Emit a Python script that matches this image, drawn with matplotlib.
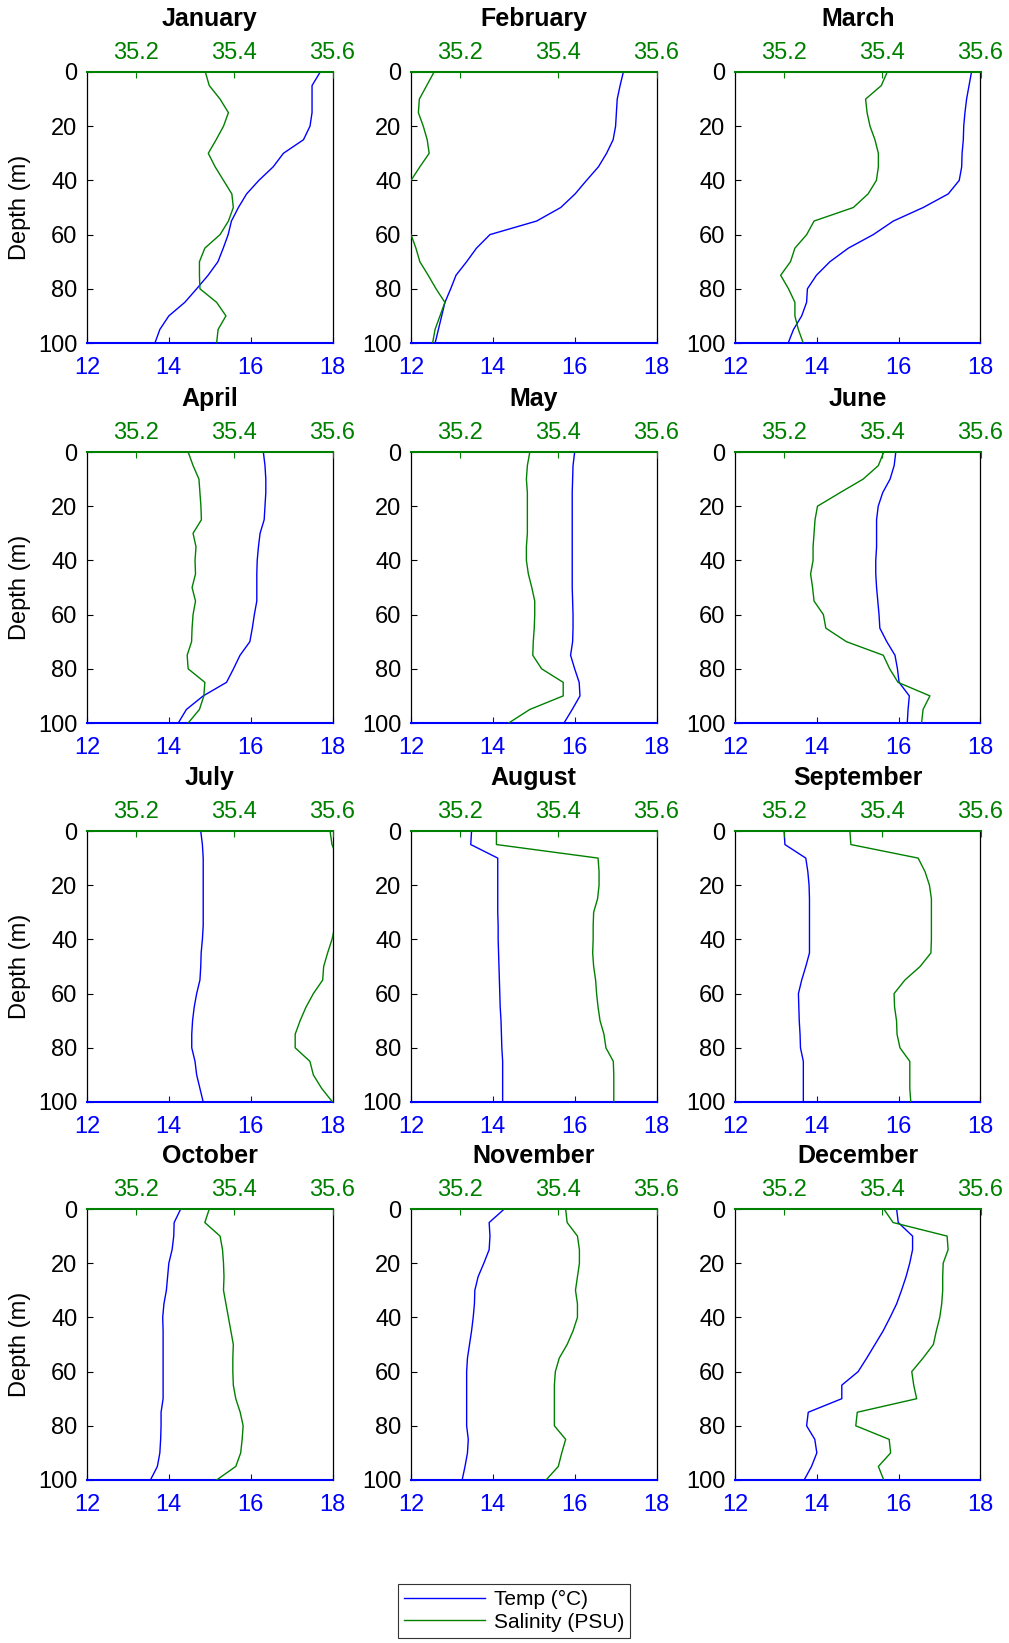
import matplotlib
matplotlib.use("Agg")
import matplotlib.pyplot as plt
from matplotlib.lines import Line2D

plt.rcParams['font.family'] = ['Liberation Sans', 'DejaVu Sans']

months = ["January", "February", "March", "April", "May", "June",
          "July", "August", "September", "October", "November", "December"]
depth = [0, 5, 10, 15, 20, 25, 30, 35, 40, 45, 50, 55, 60, 65, 70, 75, 80, 85, 90, 95, 100]

temp_jan = [17.70, 17.5, 17.5, 17.5, 17.45, 17.29, 16.8, 16.55, 16.2, 15.9, 15.7, 15.53, 15.45, 15.33, 15.2, 14.96, 14.68, 14.39, 14.0, 13.78, 13.66]
sal_jan = [35.341, 35.349, 35.371, 35.388, 35.378, 35.363, 35.347, 35.361, 35.378, 35.395, 35.398, 35.388, 35.371, 35.34, 35.329, 35.329, 35.33, 35.364, 35.383, 35.367, 35.364]
temp_feb = [17.19, 17.11, 17.04, 17.02, 17.0, 16.94, 16.78, 16.58, 16.29, 16.01, 15.66, 15.07, 13.93, 13.6, 13.36, 13.1, 12.97, 12.83, 12.75, 12.67, 12.59]
sal_feb = [35.147, 35.132, 35.117, 35.115, 35.125, 35.133, 35.137, 35.118, 35.1, 35.085, 35.08, 35.085, 35.1, 35.11, 35.118, 35.135, 35.151, 35.169, 35.159, 35.149, 35.144]
temp_mar = [17.78, 17.72, 17.66, 17.62, 17.59, 17.58, 17.55, 17.54, 17.48, 17.21, 16.6, 15.87, 15.38, 14.77, 14.32, 13.99, 13.77, 13.75, 13.63, 13.43, 13.3]
sal_mar = [35.41, 35.398, 35.366, 35.369, 35.375, 35.385, 35.392, 35.392, 35.388, 35.371, 35.341, 35.261, 35.246, 35.222, 35.213, 35.193, 35.209, 35.222, 35.222, 35.229, 35.239]
temp_apr = [16.31, 16.35, 16.37, 16.37, 16.35, 16.33, 16.23, 16.19, 16.16, 16.15, 16.15, 16.15, 16.09, 16.04, 15.98, 15.74, 15.58, 15.41, 14.84, 14.43, 14.23]
sal_apr = [35.306, 35.316, 35.328, 35.33, 35.332, 35.333, 35.316, 35.322, 35.32, 35.321, 35.314, 35.321, 35.316, 35.314, 35.313, 35.304, 35.306, 35.34, 35.338, 35.329, 35.306]
temp_may = [16.0, 15.96, 15.95, 15.94, 15.94, 15.94, 15.94, 15.94, 15.94, 15.94, 15.94, 15.95, 15.96, 15.96, 15.95, 15.9, 16.0, 16.11, 16.13, 15.94, 15.74]
sal_may = [35.342, 35.337, 35.335, 35.337, 35.337, 35.337, 35.337, 35.335, 35.335, 35.339, 35.346, 35.352, 35.352, 35.351, 35.349, 35.348, 35.366, 35.41, 35.41, 35.342, 35.299]
temp_jun = [15.93, 15.89, 15.79, 15.61, 15.50, 15.46, 15.46, 15.46, 15.44, 15.44, 15.46, 15.49, 15.52, 15.54, 15.71, 15.91, 15.97, 16.01, 16.26, 16.23, 16.21]
sal_jun = [35.403, 35.392, 35.361, 35.314, 35.268, 35.263, 35.261, 35.259, 35.259, 35.254, 35.258, 35.261, 35.28, 35.285, 35.327, 35.402, 35.415, 35.432, 35.497, 35.483, 35.48]
temp_jul = [14.78, 14.82, 14.84, 14.84, 14.84, 14.84, 14.84, 14.84, 14.82, 14.79, 14.78, 14.76, 14.68, 14.62, 14.58, 14.56, 14.56, 14.64, 14.68, 14.76, 14.84]
sal_jul = [35.595, 35.599, 35.61, 35.615, 35.615, 35.615, 35.61, 35.605, 35.599, 35.59, 35.582, 35.58, 35.561, 35.546, 35.534, 35.524, 35.524, 35.554, 35.561, 35.578, 35.6]
temp_aug = [13.48, 13.46, 14.12, 14.12, 14.12, 14.12, 14.12, 14.13, 14.13, 14.14, 14.15, 14.16, 14.17, 14.18, 14.2, 14.21, 14.22, 14.24, 14.24, 14.24, 14.24]
sal_aug = [35.274, 35.274, 35.481, 35.483, 35.483, 35.48, 35.472, 35.471, 35.471, 35.47, 35.472, 35.476, 35.478, 35.481, 35.485, 35.493, 35.497, 35.512, 35.513, 35.513, 35.513]
temp_sep = [13.2, 13.22, 13.73, 13.78, 13.81, 13.82, 13.82, 13.82, 13.82, 13.82, 13.73, 13.63, 13.55, 13.56, 13.57, 13.59, 13.6, 13.67, 13.67, 13.67, 13.67]
sal_sep = [35.334, 35.336, 35.473, 35.487, 35.496, 35.5, 35.5, 35.5, 35.5, 35.499, 35.477, 35.446, 35.424, 35.425, 35.429, 35.43, 35.436, 35.456, 35.456, 35.456, 35.458]
temp_oct = [14.29, 14.13, 14.12, 14.08, 14.0, 13.97, 13.94, 13.88, 13.85, 13.86, 13.86, 13.86, 13.86, 13.86, 13.86, 13.81, 13.81, 13.8, 13.78, 13.72, 13.55]
sal_oct = [35.349, 35.34, 35.371, 35.376, 35.378, 35.379, 35.378, 35.383, 35.388, 35.393, 35.398, 35.397, 35.397, 35.398, 35.403, 35.412, 35.418, 35.416, 35.413, 35.403, 35.364]
temp_nov = [14.28, 13.91, 13.93, 13.91, 13.78, 13.64, 13.56, 13.55, 13.52, 13.48, 13.43, 13.38, 13.36, 13.36, 13.36, 13.36, 13.36, 13.4, 13.38, 13.32, 13.25]
sal_nov = [35.415, 35.418, 35.439, 35.443, 35.443, 35.439, 35.435, 35.439, 35.439, 35.43, 35.418, 35.402, 35.394, 35.392, 35.392, 35.392, 35.392, 35.415, 35.407, 35.4, 35.375]
temp_dec = [15.95, 15.99, 16.34, 16.34, 16.27, 16.18, 16.07, 15.95, 15.79, 15.62, 15.42, 15.22, 15.01, 14.61, 14.61, 13.79, 13.75, 13.95, 14.0, 13.87, 13.69]
sal_dec = [35.403, 35.422, 35.532, 35.534, 35.524, 35.523, 35.523, 35.521, 35.517, 35.51, 35.504, 35.483, 35.46, 35.464, 35.47, 35.349, 35.346, 35.414, 35.417, 35.392, 35.403]

temps = [temp_jan, temp_feb, temp_mar, temp_apr, temp_may, temp_jun,
         temp_jul, temp_aug, temp_sep, temp_oct, temp_nov, temp_dec]
sals = [sal_jan, sal_feb, sal_mar, sal_apr, sal_may, sal_jun,
        sal_jul, sal_aug, sal_sep, sal_oct, sal_nov, sal_dec]

temp_ticks = [12, 14, 16, 18]
sal_ticks = [35.2, 35.4, 35.6]
depth_ticks = [0, 20, 40, 60, 80, 100]

BLUE = '#0000FF'
GREEN = '#008000'

W, H = 1009, 1643
fig = plt.figure(figsize=(W / 100, H / 100), dpi=100)

col_left = [87, 411, 735]
row_top = [72, 452, 831, 1209]
aw, ah = 245.5, 271
TICK_FS = 17

for i, m in enumerate(months):
    r, c = divmod(i, 3)
    rect = [col_left[c] / W, 1 - (row_top[r] + ah) / H, aw / W, ah / H]
    ax = fig.add_axes(rect)
    ax.plot(temps[i], depth, color=BLUE, lw=1.0)
    ax.set_xlim(12, 18)
    ax.set_ylim(100, 0)
    ax.set_xticks(temp_ticks)
    ax.set_yticks(depth_ticks)
    ax.tick_params(axis='x', colors=BLUE, direction='in', length=4, labelsize=TICK_FS, pad=10)
    ax.tick_params(axis='y', colors='black', direction='in', length=4, labelsize=TICK_FS, pad=7)
    ax.spines['top'].set_visible(False)
    ax.spines['bottom'].set_color(BLUE)
    ax.spines['bottom'].set_linewidth(1.5)
    ax.spines['left'].set_color('black')
    ax.spines['right'].set_color('black')
    ax.spines['left'].set_linewidth(0.9)
    ax.spines['right'].set_linewidth(0.9)
    if c == 0:
        ax.set_ylabel('Depth (m)', fontsize=17, labelpad=5)

    ax2 = ax.twiny()
    ax2.plot(sals[i], depth, color=GREEN, lw=1.0)
    ax2.set_xlim(35.1, 35.6)
    ax2.set_ylim(100, 0)
    ax2.set_xticks(sal_ticks)
    ax2.set_xticklabels(['35.2', '35.4', '35.6'])
    ax2.tick_params(axis='x', colors=GREEN, direction='in', length=4, labelsize=TICK_FS, pad=6)
    for s in ['bottom', 'left', 'right']:
        ax2.spines[s].set_visible(False)
    ax2.spines['top'].set_color(GREEN)
    ax2.spines['top'].set_linewidth(1.5)

    fig.text((col_left[c] + aw / 2) / W, 1 - (row_top[r] - 53) / H, m,
             fontsize=18, fontweight='bold', ha='center', va='center')

handles = [Line2D([], [], color=BLUE, lw=1.0), Line2D([], [], color=GREEN, lw=1.0)]
leg = fig.legend(handles, ['Temp (°C)', 'Salinity (PSU)'], loc='center',
                 bbox_to_anchor=(514 / W, 1 - 1611 / H), fontsize=15,
                 frameon=True, fancybox=False, edgecolor='black',
                 handlelength=3.9, borderpad=0.3, labelspacing=0.15, handletextpad=0.4)
leg.get_frame().set_linewidth(0.8)

fig.savefig('out.png', dpi=100)
